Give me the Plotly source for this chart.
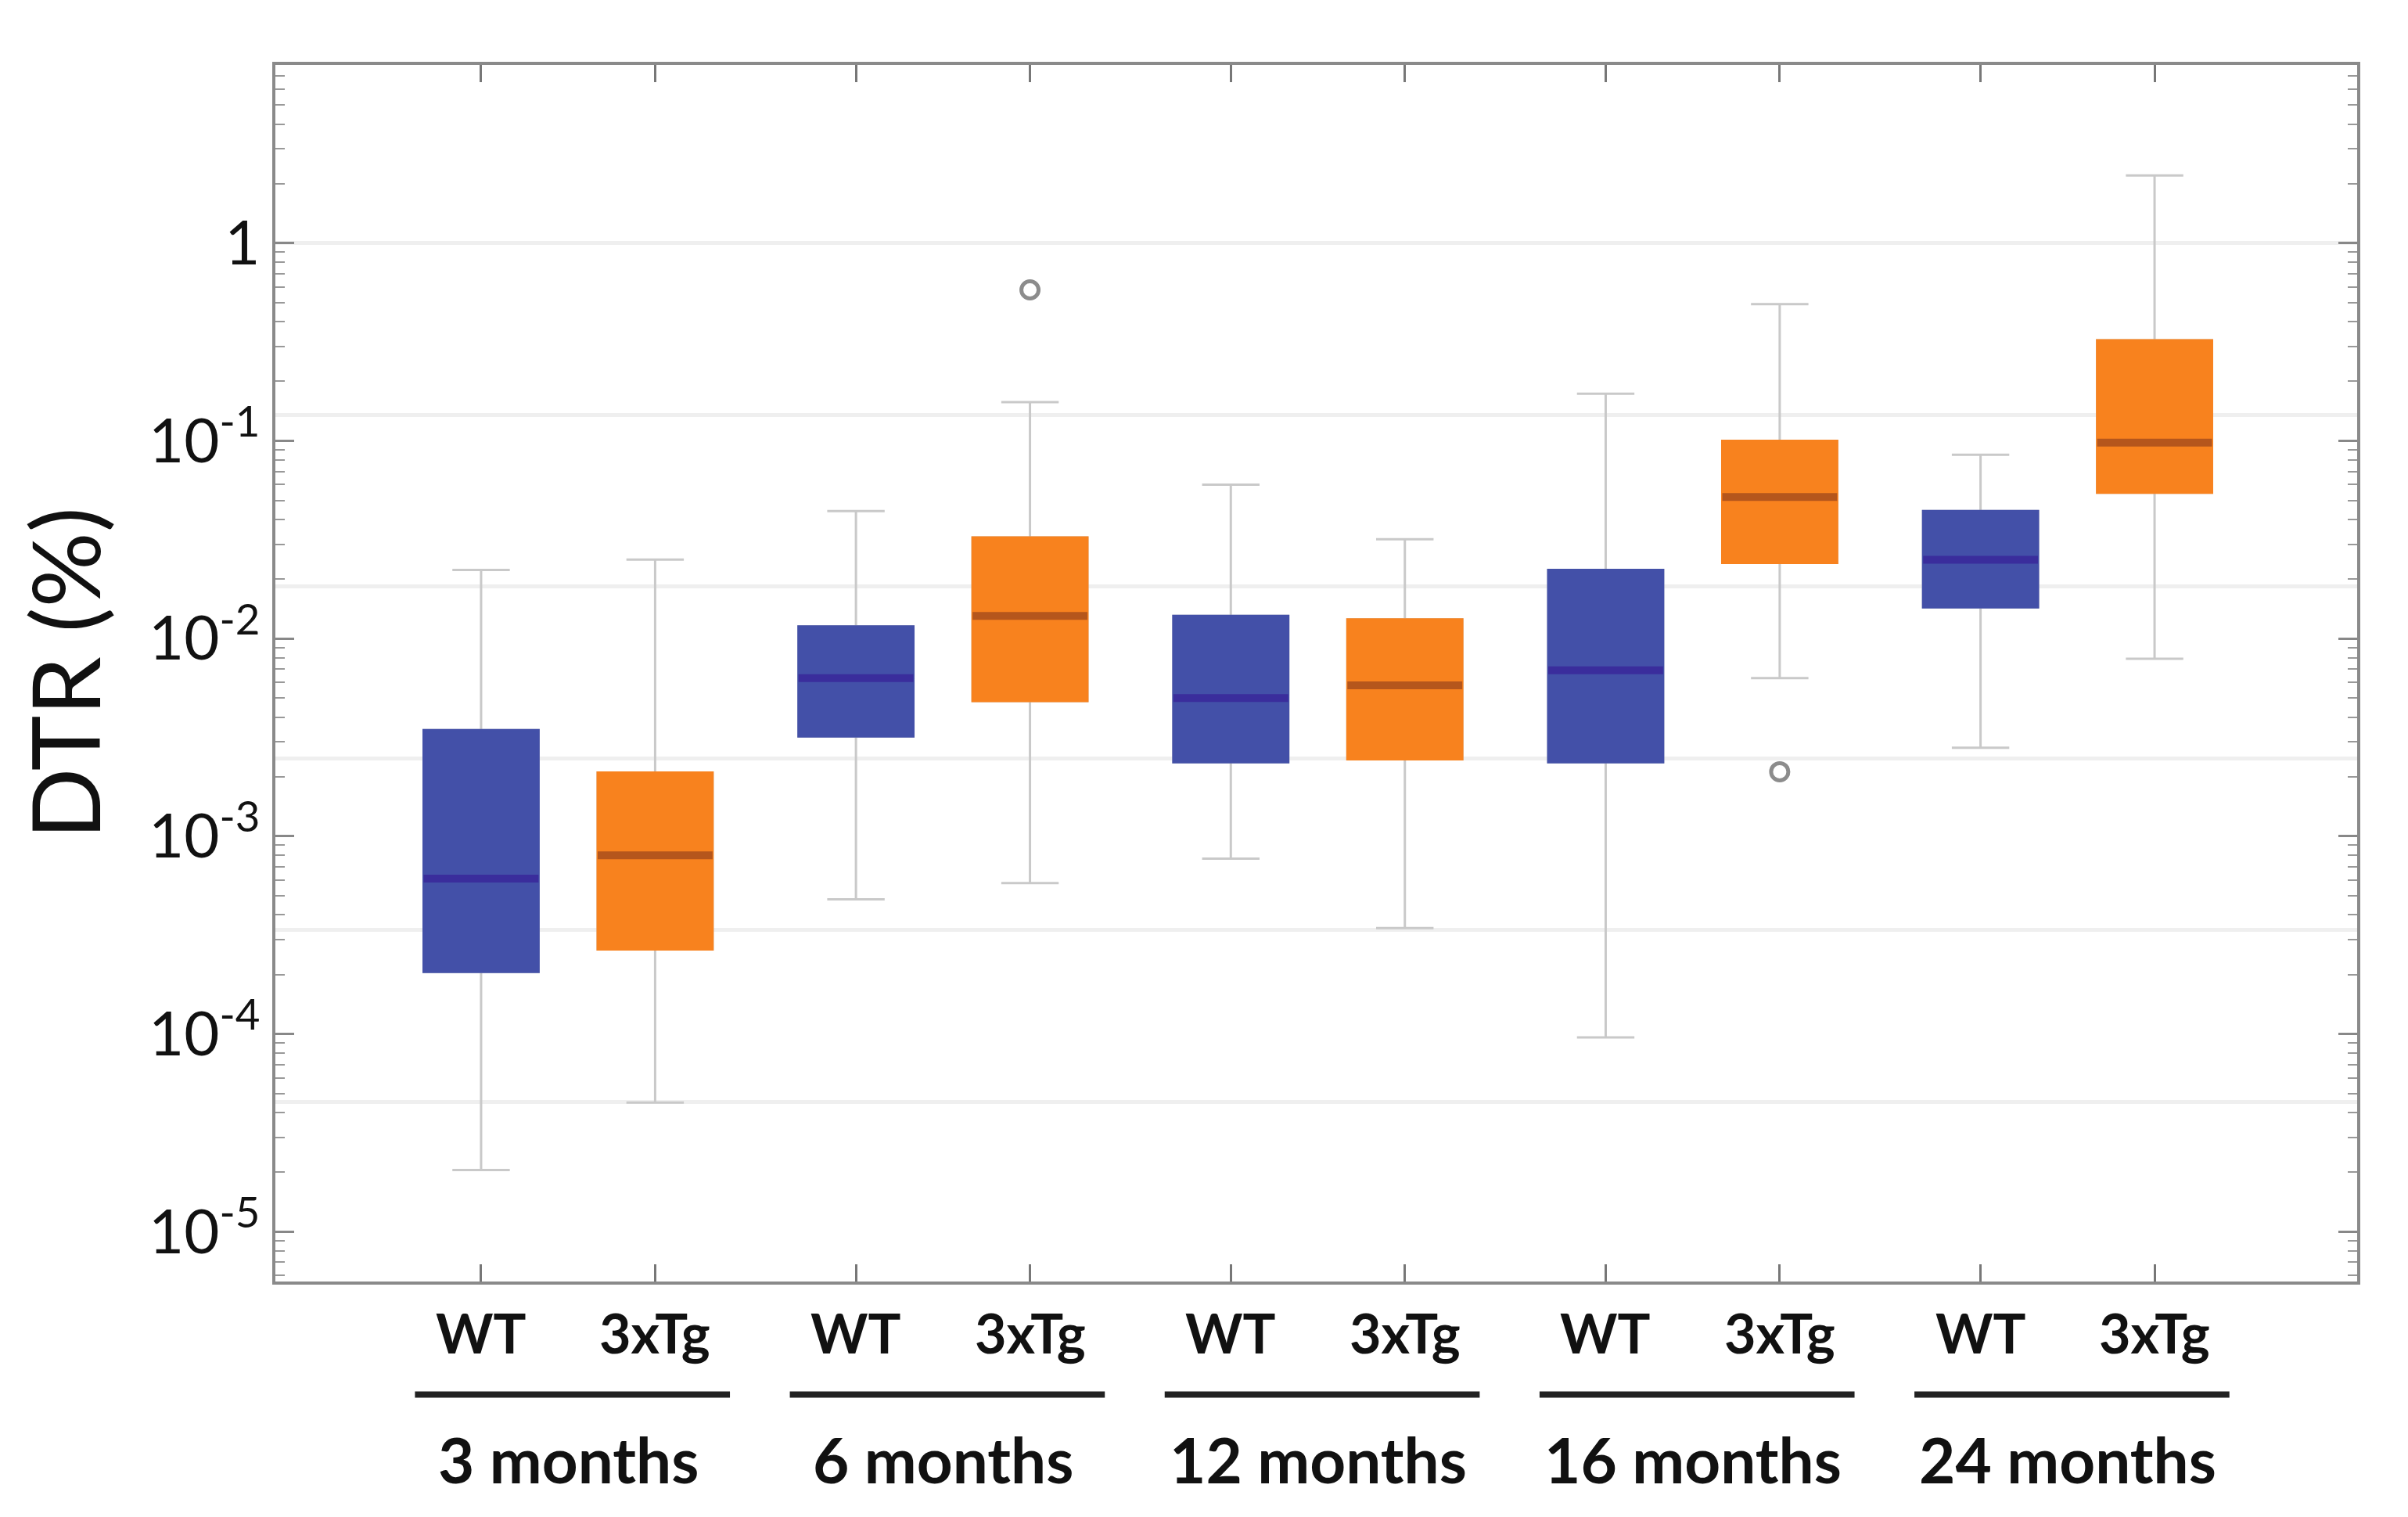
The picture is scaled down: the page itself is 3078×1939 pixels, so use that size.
import plotly.graph_objects as go

# ---------------- data ----------------
GROUPS = ["3 months", "6 months", "12 months", "16 months", "24 months"]
GENOTYPES = ["WT", "3xTg"]

WT_LOW = [2.05e-5, 4.8e-4, 7.7e-4, 9.6e-5, 2.8e-3]
WT_Q1 = [2.06e-4, 3.2e-3, 2.37e-3, 2.37e-3, 1.44e-2]
WT_MED = [6.1e-4, 6.3e-3, 5.0e-3, 6.9e-3, 2.5e-2]
WT_Q3 = [3.44e-3, 1.15e-2, 1.30e-2, 2.22e-2, 4.41e-2]
WT_UP = [2.22e-2, 4.41e-2, 6.0e-2, 0.173, 8.5e-2]

TG_LOW = [4.5e-5, 5.8e-4, 3.43e-4, 6.3e-3, 7.9e-3]
TG_Q1 = [2.68e-4, 4.83e-3, 2.45e-3, 2.41e-2, 5.47e-2]
TG_MED = [8.0e-4, 1.30e-2, 5.8e-3, 5.2e-2, 9.8e-2]
TG_Q3 = [2.1e-3, 3.24e-2, 1.25e-2, 0.100, 0.322]
TG_UP = [2.51e-2, 0.157, 3.18e-2, 0.491, 2.20]

TG_OUT_GROUP = [1, 3]
TG_OUT_VAL = [0.58, 2.12e-3]

Y_TICKS = [1e-5, 1e-4, 1e-3, 1e-2, 1e-1, 1]
Y_TICKTEXT = ["10<sup>-5</sup>", "10<sup>-4</sup>", "10<sup>-3</sup>",
              "10<sup>-2</sup>", "10<sup>-1</sup>", "1"]

# ---------------- layout / style ----------------
GAP = 2.154          # distance between groups (in units of WT-3xTg spacing)
BOX_W = 0.66
BLUE = "#4350A8"
BLUE_MED = "#3A2D9C"
ORANGE = "#F8821E"
ORANGE_MED = "#B5561C"
WHISKER = "#C9C9C9"
FRAME = "#8A8A8A"
FONT = "Lato"

pos_wt = [GAP * g for g in range(len(GROUPS))]
pos_tg = [GAP * g + 1 for g in range(len(GROUPS))]

fig = go.Figure()


def add_group(pos, low, q1, med, q3, up, fill, medc):
    # whiskers (gray)
    fig.add_trace(go.Box(x=pos, q1=q1, median=med, q3=q3, lowerfence=low,
                         upperfence=up, width=BOX_W, whiskerwidth=0.5,
                         fillcolor=fill, line=dict(color=WHISKER, width=3),
                         boxpoints=False, showlegend=False, hoverinfo="skip"))
    # coloured body covering the gray outline
    fig.add_trace(go.Box(x=pos, q1=q1, median=med, q3=q3, lowerfence=q1,
                         upperfence=q3, width=BOX_W, whiskerwidth=0,
                         fillcolor=fill, line=dict(color=fill, width=3),
                         boxpoints=False, showlegend=False, hoverinfo="skip"))
    xs, ys = [], []
    for p, m in zip(pos, med):
        xs += [p - BOX_W / 2, p + BOX_W / 2, None]
        ys += [m, m, None]
    fig.add_trace(go.Scatter(x=xs, y=ys, mode="lines",
                             line=dict(color=medc, width=10),
                             showlegend=False, hoverinfo="skip"))


add_group(pos_wt, WT_LOW, WT_Q1, WT_MED, WT_Q3, WT_UP, BLUE, BLUE_MED)
add_group(pos_tg, TG_LOW, TG_Q1, TG_MED, TG_Q3, TG_UP, ORANGE, ORANGE_MED)

fig.add_trace(go.Scatter(x=[pos_tg[g] for g in TG_OUT_GROUP], y=TG_OUT_VAL,
                         mode="markers",
                         marker=dict(symbol="circle-open", size=22,
                                     color="#8C8C8C", line=dict(width=5)),
                         showlegend=False, hoverinfo="skip"))

# invisible trace on the secondary axis that carries the faint grid
fig.add_trace(go.Scatter(x=[None], y=[None], yaxis="y2", showlegend=False,
                         hoverinfo="skip"))

# group labels and bars under them
annotations = []
shapes = []
for g, name in enumerate(GROUPS):
    for p, gt in zip((pos_wt[g], pos_tg[g]), GENOTYPES):
        annotations.append(dict(x=p, y=-0.042, xref="x", yref="paper",
                                text=gt, showarrow=False, yanchor="middle",
                                font=dict(family=FONT, size=70, color="#111",
                                          weight=700)))
    annotations.append(dict(x=(pos_wt[g] + pos_tg[g]) / 2, y=-0.146,
                            xref="x", yref="paper", text=name,
                            showarrow=False, yanchor="middle",
                            font=dict(family=FONT, size=80, color="#111",
                                      weight=700)))
    shapes.append(dict(type="line", xref="x", yref="paper",
                       x0=pos_wt[g] - 0.38, x1=pos_tg[g] + 0.43,
                       y0=-0.093, y1=-0.093,
                       line=dict(color="#222", width=8)))

minor_vals = [k * 10 ** e for e in range(-6, 1) for k in range(2, 10)]

fig.update_layout(
    width=3078, height=1939,
    margin=dict(l=344, r=73, t=75, b=309),
    paper_bgcolor="white", plot_bgcolor="white",
    boxmode="overlay",
    showlegend=False,
    annotations=annotations,
    shapes=shapes,
    xaxis=dict(range=[-1.182, 10.78], tickmode="array",
               tickvals=pos_wt + pos_tg, ticks="inside", ticklen=22,
               tickwidth=3, tickcolor="#777", showticklabels=False,
               showline=True, linecolor=FRAME, linewidth=4, mirror="ticks",
               showgrid=False, zeroline=False),
    yaxis=dict(type="log", range=[-5.252, 0.901], tickmode="array",
               tickvals=Y_TICKS, ticktext=Y_TICKTEXT, ticks="inside",
               ticklen=24, tickwidth=3, tickcolor="#888",
               minor=dict(tickmode="array", tickvals=minor_vals,
                          ticks="inside", ticklen=12, tickwidth=2,
                          tickcolor="#999", showgrid=False),
               showline=True, linecolor=FRAME, linewidth=4, mirror="ticks",
               showgrid=False, zeroline=False,
               tickfont=dict(family=FONT, size=78, color="#111"),
               title=dict(text="DTR (%)", standoff=22,
                          font=dict(family=FONT, size=120, color="#111"))),
    yaxis2=dict(overlaying="y", side="right", range=[-6.046, 1.036],
                tickmode="array", tickvals=list(range(-5, 1)),
                showgrid=True, gridcolor="#EFEFEF", gridwidth=5,
                showticklabels=False, ticks="", showline=False,
                zeroline=False),
)

fig.write_html("out.html")
